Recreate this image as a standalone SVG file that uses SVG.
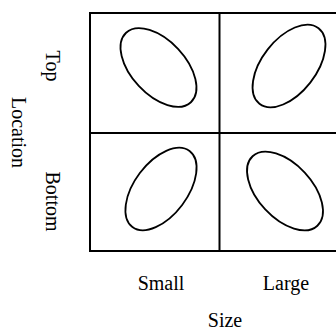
<svg xmlns="http://www.w3.org/2000/svg" width="336" height="331" viewBox="0 0 336 331">
<style>
.lbl{font-family:"Liberation Serif","Times New Roman",serif;font-size:20px;fill:#000;text-anchor:middle}
.ell{fill:none;stroke:#000;stroke-width:1.8}
.grid{fill:none;stroke:#000;stroke-width:2}
</style>
<rect width="336" height="331" fill="#fff"/>
<g id="grid">
<rect class="grid" x="90" y="13" width="259" height="238"/>
<line class="grid" x1="219.5" y1="13" x2="219.5" y2="251" stroke-width="1.6"/>
<line class="grid" x1="90" y1="133" x2="349" y2="133" stroke-width="1.6"/>
</g>
<g id="cell-top-small"><ellipse class="ell" cx="158.5" cy="67.5" rx="47.5" ry="27" transform="rotate(47 158.5 67.5)"/></g>
<g id="cell-top-large"><ellipse class="ell" cx="289" cy="66" rx="48" ry="27" transform="rotate(-52 289 66)"/></g>
<g id="cell-bottom-small"><ellipse class="ell" cx="161" cy="189" rx="47.5" ry="26.5" transform="rotate(-53 161 189)"/></g>
<g id="cell-bottom-large"><ellipse class="ell" cx="285" cy="191" rx="47.5" ry="27" transform="rotate(47 285 191)"/></g>
<g id="labels">
<text class="lbl" transform="translate(45.5 66) rotate(90)">Top</text>
<text class="lbl" transform="translate(45.5 201.5) rotate(90)">Bottom</text>
<text class="lbl" transform="translate(12 132.5) rotate(90)">Location</text>
<text class="lbl" x="161" y="290">Small</text>
<text class="lbl" x="286" y="290">Large</text>
<text class="lbl" x="225" y="327">Size</text>
</g>
</svg>
